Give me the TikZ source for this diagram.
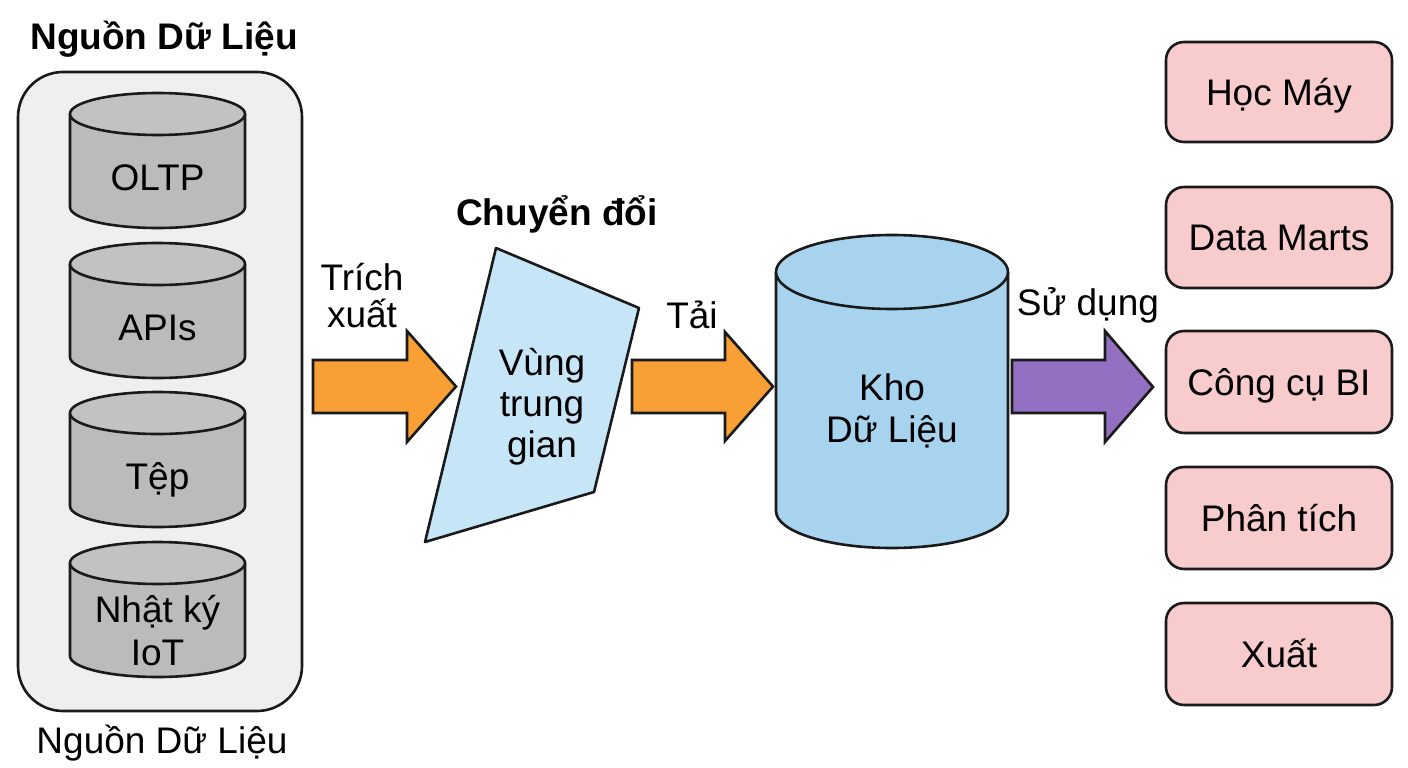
\documentclass[tikz,border=0pt]{standalone}
\usepackage{fontspec}
\setmainfont{Liberation Sans}
\definecolor{edgec}{HTML}{1A1A1A}
\definecolor{panel}{HTML}{EFEFEF}
\definecolor{dbgray}{HTML}{BBBBBB}
\definecolor{dbtop}{HTML}{C2C2C2}
\definecolor{whblue}{HTML}{A7D3EF}
\definecolor{stblue}{HTML}{C6E6F8}
\definecolor{orangea}{HTML}{F8A035}
\definecolor{purplea}{HTML}{9370C2}
\definecolor{pinkb}{HTML}{F8CBCD}
\newcommand\smallcyl[1]{%
  \fill[dbgray] (70,#1+21) -- (70,#1+114) arc[start angle=180,end angle=360,x radius=87.5pt,y radius=21pt] -- (245,#1+21) -- cycle;
  \draw[edge] (70,#1+21) -- (70,#1+114) arc[start angle=180,end angle=360,x radius=87.5pt,y radius=21pt] -- (245,#1+21);
  \draw[edge,fill=dbtop] (157.5,#1+21) ellipse[x radius=87.5pt,y radius=21pt];
}
\begin{document}
\begin{tikzpicture}[x=1pt,y=-1pt,
  edge/.style={draw=edgec,line width=2.6pt,line join=round},
  txt/.style={font=\fontsize{37}{44}\selectfont,text=black,inner sep=0pt,anchor=base},
  btxt/.style={txt,font=\fontsize{37}{44}\selectfont\bfseries},
  pinkbox/.style={edge,fill=pinkb,rounded corners=18pt},
  blockarrow/.style={edge,line join=miter},
]
\useasboundingbox[fill=white] (0,0) rectangle (1408,768);

% source panel
\draw[edge,fill=panel,rounded corners=45pt] (18,72) rectangle (302,711);
\node[btxt] (title) at (164,50) {Nguồn Dữ Liệu};
\node[txt] (foot) at (162,753) {Nguồn Dữ Liệu};

\smallcyl{93}
\smallcyl{243}
\smallcyl{392}
\smallcyl{542}
\node[txt] (oltp) at (157.5,190) {OLTP};
\node[txt] (apis) at (157.5,340) {APIs};
\node[txt] (tep) at (157.5,489) {Tệp};
\node[txt] (nhatky) at (157.5,622) {Nhật ký};
\node[txt] (iot) at (157.5,665) {IoT};

% extract arrow
\draw[blockarrow,fill=orangea] (313,360) -- (407,360) -- (407,331) -- (456,386.5) -- (407,442) -- (407,413) -- (313,413) -- cycle;
\node[txt] (trich) at (362,290) {Trích};
\node[txt] (xuat) at (362,327) {xuất};

% staging area
\draw[edge,fill=stblue] (496,248) -- (639,308) -- (594,492) -- (425,542) -- cycle;
\node[btxt] (chuyen) at (557,225) {Chuyển đổi};
\node[txt] (vung) at (542,375) {Vùng};
\node[txt] (trung) at (542,416) {trung};
\node[txt] (gian) at (542,457) {gian};

% load arrow
\draw[blockarrow,fill=orangea] (632,360) -- (725,360) -- (725,332) -- (773,386.5) -- (725,441) -- (725,413) -- (632,413) -- cycle;
\node[txt] (tai) at (692,328) {Tải};

% warehouse
\fill[whblue] (776,272) -- (776,511) arc[start angle=180,end angle=360,x radius=116pt,y radius=37pt] -- (1008,272) -- cycle;
\draw[edge] (776,272) -- (776,511) arc[start angle=180,end angle=360,x radius=116pt,y radius=37pt] -- (1008,272);
\draw[edge,fill=whblue] (892,272) ellipse[x radius=116pt,y radius=37pt];
\node[txt] (kho) at (892,400) {Kho};
\node[txt] (dulieu) at (892,442) {Dữ Liệu};

% use arrow
\draw[blockarrow,fill=purplea] (1012,360) -- (1105,360) -- (1105,331) -- (1153,387) -- (1105,442) -- (1105,413) -- (1012,413) -- cycle;
\node[txt] (sudung) at (1088,315) {Sử dụng};

% consumers
\draw[pinkbox] (1166,42) rectangle (1392,142);
\draw[pinkbox] (1166,187) rectangle (1392,288);
\draw[pinkbox] (1166,331) rectangle (1392,433);
\draw[pinkbox] (1166,467) rectangle (1392,569);
\draw[pinkbox] (1166,603) rectangle (1392,705);
\node[txt] (hocmay) at (1279,105) {Học Máy};
\node[txt] (datamarts) at (1279,250.5) {Data Marts};
\node[txt] (bi) at (1279,395) {Công cụ BI};
\node[txt] (phantich) at (1279,531) {Phân tích};
\node[txt] (xuatb) at (1279,667) {Xuất};
\end{tikzpicture}
\end{document}
